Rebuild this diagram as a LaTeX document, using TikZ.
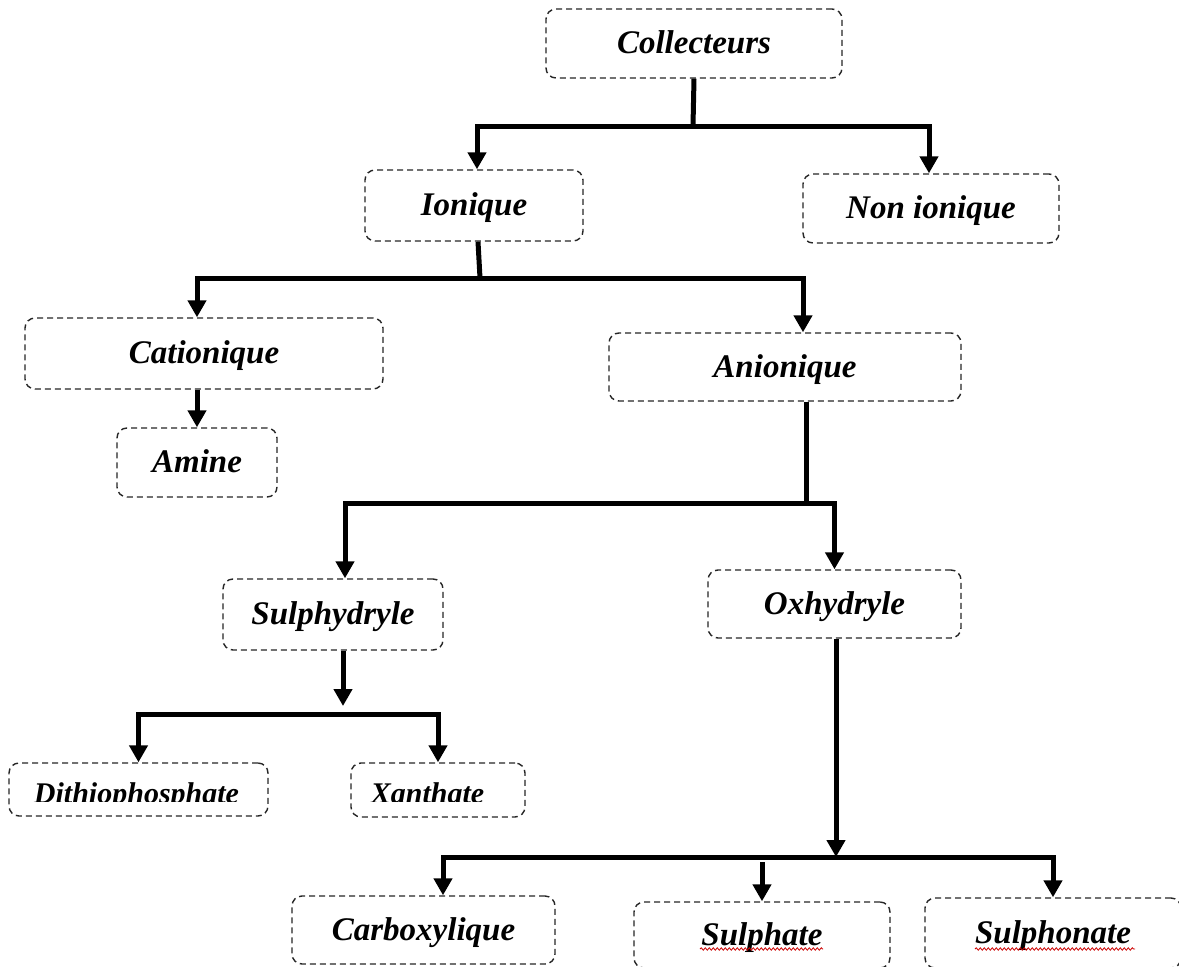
\documentclass[tikz,border=0pt]{standalone}
\usepackage{fontspec}
\setmainfont{Liberation Serif}
\usetikzlibrary{arrows.meta,decorations.pathmorphing}
\begin{document}
\begin{tikzpicture}[x=1pt,y=-1pt,
 box/.style={draw=black!85, line width=1.4pt, dash pattern=on 6pt off 4pt, rounded corners=10pt, inner sep=0pt, font=\bfseries\itshape\fontsize{33}{40}\selectfont, text height=22pt, text depth=2pt, align=center},
 lbl/.style={inner sep=0pt, font=\bfseries\itshape\fontsize{30}{36}\selectfont, anchor=base},
 conn/.style={line width=5pt, line join=miter},
 arr/.style={conn, -{Triangle[width=18pt,length=17pt]}},
 spell/.style={red!80!black, line width=0.8pt, decorate, decoration={snake, segment length=4pt, amplitude=1.2pt}}]
\path[use as bounding box] (0,0) rectangle (1179,967);
\fill[white] (0,0) rectangle (1179,967);
\clip (0,0) rectangle (1179,967);

% boxes
\node[box, minimum width=296pt, minimum height=69pt] (coll) at (694,43.5) {Collecteurs};
\node[box, minimum width=218pt, minimum height=71pt] (ion) at (474,205.5) {Ionique};
\node[box, minimum width=256pt, minimum height=69pt] (nonion) at (931,208.5) {Non ionique};
\node[box, minimum width=358pt, minimum height=71pt] (cat) at (204,353.5) {Cationique};
\node[box, minimum width=160pt, minimum height=69pt] (amine) at (197,462.5) {Amine};
\node[box, minimum width=352pt, minimum height=68pt] (anion) at (785,367) {Anionique};
\node[box, minimum width=220pt, minimum height=71pt] (sulph) at (333,614.5) {Sulphydryle};
\node[box, minimum width=253pt, minimum height=68pt] (oxh) at (834.5,604) {Oxhydryle};
\node[box, minimum width=259pt, minimum height=53pt] (dith) at (138.5,789.5) {};
\node[box, minimum width=174pt, minimum height=54pt] (xan) at (438,790) {};
\node[box, minimum width=263pt, minimum height=68pt] (carb) at (423.5,930) {Carboxylique};
\node[box, minimum width=256pt, minimum height=66pt] (sulf) at (762,935) {Sulphate};
\node[box, minimum width=256pt, minimum height=70pt] (sulfo) at (1053,933) {Sulphonate};

\begin{scope}
\clip (0,760) rectangle (560,801);
\node[lbl] (dithT) at (136.5,803) {Dithiophosphate};
\node[lbl] (xanT) at (427.5,803) {Xanthate};
\end{scope}

% spell-check underlines
\draw[spell] (700,949) -- (823,949);
\draw[spell] (975,949) -- (1135,949);

% connectors
\coordinate (j1) at (693,126);
\draw[conn] (coll.south) -- (j1);
\draw[arr] (j1) -| ([xshift=3pt]ion.north);
\draw[arr] (j1) -| ([xshift=-2pt]nonion.north);

\coordinate (j2) at (480,278);
\draw[conn] ([xshift=4pt]ion.south) -- (j2);
\draw[arr] (j2) -| ([xshift=-7pt]cat.north);
\draw[arr] (j2) -| ([xshift=18pt]anion.north);

\draw[arr] (cat.south -| amine.north) -- (amine.north);

\coordinate (j3) at (806,503);
\draw[conn] ([xshift=21pt]anion.south) -- (j3);
\draw[arr] (j3) -| ([xshift=12pt]sulph.north);
\draw[arr] (j3) -| (oxh.north);

\coordinate (j4) at (343,714);
\draw[arr, shorten >=8pt] ([xshift=10pt]sulph.south) -- (j4);
\draw[arr] (j4) -| (dith.north);
\draw[arr] (j4) -| (xan.north);

\coordinate (j5) at (836,857);
\draw[arr] ([xshift=1.5pt]oxh.south) -- (j5);
\draw[arr] (j5) -| ([xshift=19.5pt]carb.north);
\draw[arr] (j5) -| (sulfo.north);
\coordinate (s0) at (762,862);
\draw[arr] (s0) -- (sulf.north);
\end{tikzpicture}
\end{document}
